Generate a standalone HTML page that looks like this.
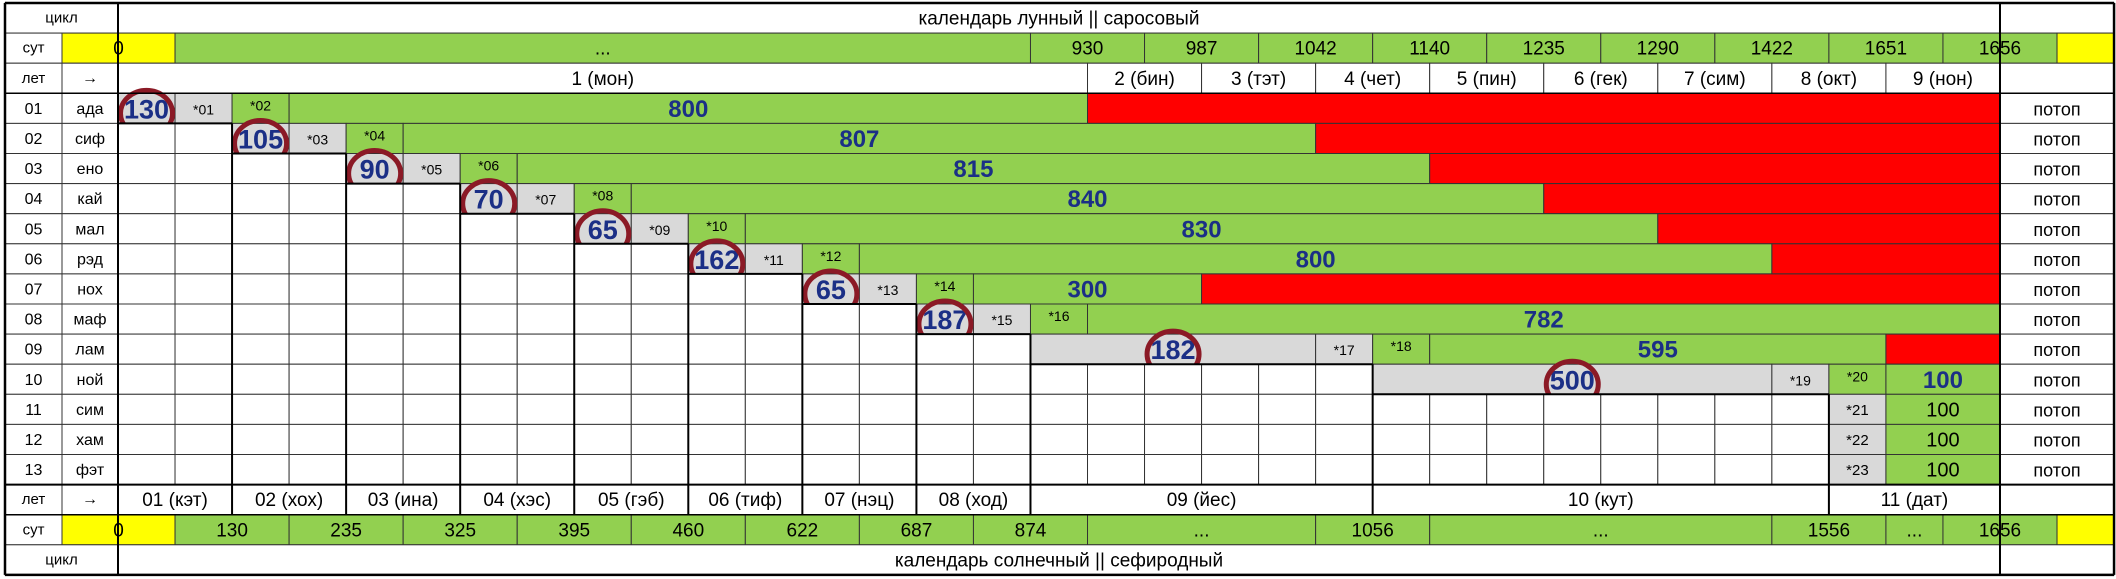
<!DOCTYPE html>
<html><head><meta charset="utf-8"><style>
html,body{margin:0;padding:0;background:#fff;}
svg{display:block;}
text{font-family:"Liberation Sans Narrow","Liberation Sans",sans-serif;}
</style></head><body>
<svg id="chart" width="2116" height="579" viewBox="0 0 2116 579" xmlns="http://www.w3.org/2000/svg"></svg>
<script>
// ---- data ----
const rowNums = ['01','02','03','04','05','06','07','08','09','10','11','12','13'];
const rowNames = ['ада','сиф','ено','кай','мал','рэд','нох','маф','лам','ной','сим','хам','фэт'];
const leadValues = [130,105,90,70,65,162,65,187,182,500];
const leadStart = [0,2,4,6,8,10,12,14,16,22];
const leadSpan = [1,1,1,1,1,1,1,1,5,7];
const greyStars = ['*01','*03','*05','*07','*09','*11','*13','*15','*17','*19','*21','*22','*23'];
const greenStars = ['*02','*04','*06','*08','*10','*12','*14','*16','*18','*20'];
const barValues = [800,807,815,840,830,800,300,782,595,100,100,100,100];
const barEnd = [17,21,23,25,27,29,19,33,31,33,33,33,33];
const topSutValues = ['930','987','1042','1140','1235','1290','1422','1651','1656'];
const topYearLabels = ['2 (бин)','3 (тэт)','4 (чет)','5 (пин)','6 (гек)','7 (сим)','8 (окт)','9 (нон)'];
const bottomYearLabels = ['01 (кэт)','02 (хох)','03 (ина)','04 (хэс)','05 (гэб)','06 (тиф)','07 (нэц)','08 (ход)','09 (йес)','10 (кут)','11 (дат)'];
const bottomYearSpans = [2,2,2,2,2,2,2,2,6,8,3];
const bottomSutValues = ['130','235','325','395','460','622','687','874','...','1056','...','1556','...','1656'];
const bottomSutSpans = [2,2,2,2,2,2,2,2,4,2,6,2,1,2];

// ---- layout ----
const svg = document.getElementById('chart');
const NS = 'http://www.w3.org/2000/svg';
const GREEN='#92D050', RED='#FF0000', GREY='#D9D9D9', YEL='#FFFF00', BLUE='#1B2F86', LINE='#333';
const X0=5, X1=62, X2=118, CW=57.03, RH=30.1, Y0=3;
function cx(k){return X2+CW*k;}
function ry(i){return Y0+RH*i;}
function rect(x,y,w,h,fill,name){
  const r=document.createElementNS(NS,'rect');
  r.setAttribute('x',x);r.setAttribute('y',y);r.setAttribute('width',w);r.setAttribute('height',h);
  r.setAttribute('fill',fill);r.setAttribute('stroke',LINE);r.setAttribute('stroke-width',1);
  
  
  svg.appendChild(r);return r;
}
function text(x,y,s,size,opt,name){
  opt=opt||{};
  const t=document.createElementNS(NS,'text');
  t.setAttribute('x',x);t.setAttribute('y',y);
  t.setAttribute('font-size',size);t.setAttribute('text-anchor','middle');
  t.setAttribute('dominant-baseline','central');
  t.setAttribute('fill',opt.fill||'#000');
  if(opt.bold)t.setAttribute('font-weight','bold');
  t.textContent=s;
  
  
  svg.appendChild(t);return t;
}
function line(x1,y1,x2,y2,w,name){
  const l=document.createElementNS(NS,'line');
  l.setAttribute('x1',x1);l.setAttribute('y1',y1);l.setAttribute('x2',x2);l.setAttribute('y2',y2);
  l.setAttribute('stroke','#000');l.setAttribute('stroke-width',w);
  
  
  svg.appendChild(l);
}
function cell(k0,span,row,fill,label,size,opt,name){
  const x=cx(k0), w=CW*span, y=ry(row);
  rect(x,y,w,RH,fill,name);
  if(label!==null&&label!==undefined&&label!=='') text(x+w/2,y+RH/2+1,label,size,opt,name+'-label');
}

// ---- header rows ----
rect(X0,ry(0),X2-X0,RH,'#fff','cycle-label-cell');
text((X0+X2)/2,ry(0)+RH/2,'цикл',15,{},'cycle-label-top');
cell(0,33,0,'#fff','календарь лунный || саросовый',19,{},'lunar-calendar-title');
cell(33,2,0,'#fff','',0,{},'top-right-blank');

rect(X0,ry(1),X1-X0,RH,'#fff','sut-label-cell');
text((X0+X1)/2,ry(1)+RH/2,'сут',15,{},'sut-label-top');
rect(X1,ry(1),cx(1)-X1,RH,YEL,'sut-zero-top');
text((X1+cx(1))/2,ry(1)+RH/2+1,'0',19,{},'sut-zero-top-label');
cell(1,15,1,GREEN,'...',19,{},'sut-ellipsis-top');
for(let i=0;i<topSutValues.length;i++){
  cell(16+2*i,2,1,GREEN,topSutValues[i],19,{},'sut-top-'+topSutValues[i]);
}
cell(34,1,1,YEL,'',0,{},'sut-top-yellow-end');

rect(X0,ry(2),X1-X0,RH,'#fff','years-label-cell');
text((X0+X1)/2,ry(2)+RH/2,'лет',15,{},'years-label-top');
rect(X1,ry(2),X2-X1,RH,'#fff','arrow-cell-top');
text((X1+X2)/2,ry(2)+RH/2,'→',16,{},'arrow-top');
cell(0,17,2,'#fff','1 (мон)',19,{},'year-1-mon');
for(let i=0;i<topYearLabels.length;i++){
  cell(17+2*i,2,2,'#fff',topYearLabels[i],19,{},'year-top-'+(i+2));
}
cell(33,2,2,'#fff','',0,{},'year-top-blank');

// ---- data rows ----
for(let r=0;r<13;r++){
  const row=3+r, y=ry(row);
  rect(X0,y,X1-X0,RH,'#fff','row-num-'+rowNums[r]);
  text((X0+X1)/2,y+RH/2+1,rowNums[r],16,{},'row-num-label-'+rowNums[r]);
  rect(X1,y,X2-X1,RH,'#fff','row-name-'+rowNames[r]);
  text((X1+X2)/2,y+RH/2+1,rowNames[r],16,{},'row-name-label-'+rowNames[r]);
  let start, barStart;
  if(r<10){
    start=leadStart[r];
    for(let k=0;k<start;k++) cell(k,1,row,'#fff','',0,{},'empty-cell');
    cell(start,leadSpan[r],row,GREY,'',0,{},'lead-cell-'+leadValues[r]);
    const gk=start+leadSpan[r];
    cell(gk,1,row,GREY,greyStars[r],14,{},'grey-star-'+greyStars[r]);
    cell(gk+1,1,row,GREEN,'',0,{},'green-star-'+greenStars[r]);
    text(cx(gk+1)+CW/2,y+RH/2-3,greenStars[r],14,{},'green-star-label-'+greenStars[r]);
    barStart=gk+2;
  } else {
    for(let k=0;k<30;k++) cell(k,1,row,'#fff','',0,{},'empty-cell');
    cell(30,1,row,GREY,greyStars[r],15,{},'grey-star-'+greyStars[r]);
    barStart=31;
  }
  const bold = r<10;
  cell(barStart,barEnd[r]-barStart,row,GREEN,String(barValues[r]),bold?24:20,{bold:bold,fill:bold?BLUE:'#000'},'bar-'+rowNames[r]);
  if(barEnd[r]<33) cell(barEnd[r],33-barEnd[r],row,RED,'',0,{},'flood-red-'+rowNames[r]);
  cell(33,2,row,'#fff','потоп',18,{},'flood-label-'+rowNames[r]);
  if(r<10){
    const lx=cx(start)+CW*leadSpan[r]/2;
    text(lx,y+RH/2+1,String(leadValues[r]),27,{bold:true,fill:BLUE},'lead-value-'+leadValues[r]);
    const e=document.createElementNS(NS,'ellipse');
    e.setAttribute('cx',lx);e.setAttribute('cy',y+RH/2+5);
    e.setAttribute('rx',26);e.setAttribute('ry',23);
    e.setAttribute('fill','none');e.setAttribute('stroke','#8B1A26');e.setAttribute('stroke-width',5);
    
    
    svg.appendChild(e);
  }
}

// ---- footer rows ----
rect(X0,ry(16),X1-X0,RH,'#fff','years-label-bottom-cell');
text((X0+X1)/2,ry(16)+RH/2,'лет',15,{},'years-label-bottom');
rect(X1,ry(16),X2-X1,RH,'#fff','arrow-cell-bottom');
text((X1+X2)/2,ry(16)+RH/2,'→',16,{},'arrow-bottom');
let k=0;
for(let i=0;i<bottomYearLabels.length;i++){
  cell(k,bottomYearSpans[i],16,'#fff',bottomYearLabels[i],19,{},'year-bottom-'+(i+1));
  k+=bottomYearSpans[i];
}
cell(33,2,16,'#fff','',0,{},'year-bottom-blank');

rect(X0,ry(17),X1-X0,RH,'#fff','sut-label-bottom-cell');
text((X0+X1)/2,ry(17)+RH/2,'сут',15,{},'sut-label-bottom');
rect(X1,ry(17),cx(1)-X1,RH,YEL,'sut-zero-bottom');
text((X1+cx(1))/2,ry(17)+RH/2+1,'0',19,{},'sut-zero-bottom-label');
k=1;
for(let i=0;i<bottomSutValues.length;i++){
  cell(k,bottomSutSpans[i],17,GREEN,bottomSutValues[i],19,{},'sut-bottom-'+i);
  k+=bottomSutSpans[i];
}
cell(34,1,17,YEL,'',0,{},'sut-bottom-yellow-end');

rect(X0,ry(18),X2-X0,RH,'#fff','cycle-label-bottom-cell');
text((X0+X2)/2,ry(18)+RH/2,'цикл',15,{},'cycle-label-bottom');
cell(0,33,18,'#fff','календарь солнечный || сефиродный',19,{},'solar-calendar-title');
cell(33,2,18,'#fff','',0,{},'bottom-right-blank');

// ---- thick borders ----
line(X0,ry(0),cx(35),ry(0),2.5,'border-top');
line(X0,ry(19),cx(35),ry(19),2.5,'border-bottom');
line(X0,ry(0),X0,ry(19),2.5,'border-left');
line(cx(35),ry(0),cx(35),ry(19),2.5,'border-right');
line(X2,ry(0),X2,ry(19),2,'border-data-left');
line(cx(33),ry(0),cx(33),ry(19),2,'border-flood-left');
line(X0,ry(3),cx(35),ry(3),1.5,'border-header-bottom');
line(X0,ry(16),cx(35),ry(16),2,'border-footer-top');
line(X0,ry(17),cx(35),ry(17),1.5,'border-footer-mid');
for(let r=0;r<10;r++){
  const s=leadStart[r], yTop=ry(3+r);
  const nextS = r<9?leadStart[r+1]:30;
  line(cx(s),yTop,cx(s),ry(17),2,'step-vertical');
  line(cx(s),ry(4+r),cx(nextS),ry(4+r),2,'step-horizontal');
}
line(cx(30),ry(13),cx(30),ry(17),2,'step-vertical-last');
</script>
</body></html>
